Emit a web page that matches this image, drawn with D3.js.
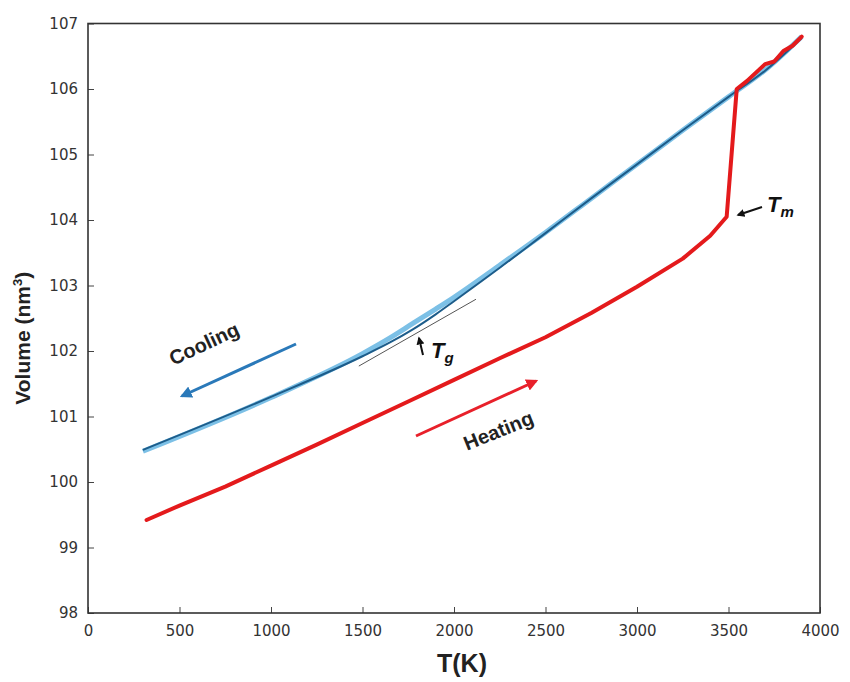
<!DOCTYPE html>
<html>
<head>
<meta charset="utf-8">
<script src="https://cdn.jsdelivr.net/npm/d3@7/dist/d3.min.js"></script>
<style>
  body { margin: 0; background: #fff; }
  svg { display: block; }
</style>
</head>
<body>
<svg id="chart" width="850" height="682"></svg>
<script>
// cooling run: temperatures (K), raw volume (light blue) and smoothed (dark blue)
const coolT = [300, 1000, 1500, 1650, 1775, 1900, 2000, 2250, 2500, 2750, 3000, 3250, 3500, 3700, 3900];
const coolingRaw = [100.47, 101.29, 101.96, 102.20, 102.42, 102.64, 102.82, 103.31, 103.81, 104.33, 104.85, 105.37, 105.88, 106.29, 106.80];
const coolingFit = [100.49, 101.30, 101.92, 102.13, 102.33, 102.56, 102.76, 103.27, 103.80, 104.33, 104.85, 105.37, 105.88, 106.28, 106.78];
// heating run
const heatT = [320, 500, 750, 1000, 1250, 1500, 1750, 2000, 2250, 2500, 2750, 3000, 3250, 3400, 3490, 3545, 3600, 3650, 3700, 3750, 3800, 3850, 3900];
const heatV = [99.42, 99.64, 99.93, 100.25, 100.57, 100.90, 101.23, 101.56, 101.89, 102.21, 102.58, 102.98, 103.41, 103.76, 104.05, 106.00, 106.12, 106.25, 106.38, 106.42, 106.58, 106.66, 106.80];
// tangent line used to find Tg
const tangentT = [1480, 2120];
const tangentV = [101.77, 102.79];

const xTicks = [0, 500, 1000, 1500, 2000, 2500, 3000, 3500, 4000];
const yTicks = [98, 99, 100, 101, 102, 103, 104, 105, 106, 107];

const svg = d3.select('#chart');
const m = { left: 88, right: 820, top: 23.5, bottom: 613 };

const x = d3.scaleLinear().domain([0, 4000]).range([m.left, m.right]);
const y = d3.scaleLinear().domain([98, 107]).range([m.bottom, m.top]);

const line = d3.line().x(d => x(d[0])).y(d => y(d[1]));
const smooth = d3.line().x(d => x(d[0])).y(d => y(d[1])).curve(d3.curveMonotoneX);

// axes (ticks inward)
const xAxis = svg.append('g')
  .attr('transform', `translate(0,${m.bottom})`)
  .call(d3.axisBottom(x).tickValues(xTicks).tickFormat(d3.format('d'))
    .tickSizeInner(-6).tickSizeOuter(0).tickPadding(12));
const yAxis = svg.append('g')
  .attr('transform', `translate(${m.left},0)`)
  .call(d3.axisLeft(y).tickValues(yTicks).tickFormat(d3.format('d'))
    .tickSizeInner(-6).tickSizeOuter(0).tickPadding(10));

[xAxis, yAxis].forEach(a => {
  a.select('.domain').remove();
  a.selectAll('line').attr('stroke', '#444').attr('stroke-width', 1);
  a.selectAll('text')
    .attr('fill', '#333')
    .style('font-family', 'DejaVu Sans')
    .style('font-size', '15px');
});

// frame
svg.append('rect')
  .attr('x', m.left).attr('y', m.top)
  .attr('width', m.right - m.left).attr('height', m.bottom - m.top)
  .attr('fill', 'none').attr('stroke', '#333').attr('stroke-width', 1.6);

// arrow markers
const defs = svg.append('defs');
function marker(id, color) {
  defs.append('marker')
    .attr('id', id)
    .attr('viewBox', '0 0 10 10')
    .attr('refX', 8).attr('refY', 5)
    .attr('markerWidth', 4).attr('markerHeight', 4)
    .attr('orient', 'auto')
    .append('path')
    .attr('d', 'M0,0 L10,5 L0,10 z')
    .attr('fill', color);
}
marker('arrBlue', '#2a79b9');
marker('arrRed', '#e8202a');
marker('arrBlack', '#111');

// curves
svg.append('path')
  .datum(coolT.map((t, i) => [t, coolingRaw[i]]))
  .attr('d', smooth)
  .attr('fill', 'none').attr('stroke', '#7cc0e6').attr('stroke-width', 5)
  .attr('stroke-linejoin', 'round');

svg.append('path')
  .datum(coolT.map((t, i) => [t, coolingFit[i]]))
  .attr('d', smooth)
  .attr('fill', 'none').attr('stroke', '#1c5c8a').attr('stroke-width', 2)
  .attr('stroke-linejoin', 'round');

svg.append('path')
  .datum(tangentT.map((t, i) => [t, tangentV[i]]))
  .attr('d', line)
  .attr('fill', 'none').attr('stroke', '#555').attr('stroke-width', 1);

svg.append('path')
  .datum(heatT.map((t, i) => [t, heatV[i]]))
  .attr('d', line)
  .attr('fill', 'none').attr('stroke', '#e41a1c').attr('stroke-width', 4)
  .attr('stroke-linejoin', 'round').attr('stroke-linecap', 'round');

// annotations
svg.append('line')
  .attr('x1', 296).attr('y1', 344).attr('x2', 182).attr('y2', 396)
  .attr('stroke', '#2a79b9').attr('stroke-width', 3)
  .attr('marker-end', 'url(#arrBlue)');

svg.append('line')
  .attr('x1', 416).attr('y1', 436).attr('x2', 536).attr('y2', 381)
  .attr('stroke', '#e8202a').attr('stroke-width', 3)
  .attr('marker-end', 'url(#arrRed)');

svg.append('line')
  .attr('x1', 423).attr('y1', 355).attr('x2', 419).attr('y2', 338)
  .attr('stroke', '#111').attr('stroke-width', 2)
  .attr('marker-end', 'url(#arrBlack)');

svg.append('line')
  .attr('x1', 762).attr('y1', 207).attr('x2', 738).attr('y2', 215)
  .attr('stroke', '#111').attr('stroke-width', 2)
  .attr('marker-end', 'url(#arrBlack)');

const lab = (txt, tx, ty, rot, size) => svg.append('text')
  .attr('transform', `translate(${tx},${ty}) rotate(${rot})`)
  .attr('text-anchor', 'middle')
  .style('font-family', 'Liberation Sans, Arial, sans-serif')
  .style('font-weight', 'bold')
  .style('font-size', size + 'px')
  .attr('fill', '#222')
  .text(txt);

lab('Cooling', 207, 350, -25, 20);
lab('Heating', 501, 437, -22, 20);

function subLabel(main, sub, tx, ty) {
  const t = svg.append('text')
    .attr('x', tx).attr('y', ty)
    .style('font-family', 'Liberation Sans, Arial, sans-serif')
    .style('font-weight', 'bold')
    .style('font-style', 'italic')
    .style('font-size', '22px')
    .attr('fill', '#111');
  t.append('tspan').text(main);
  t.append('tspan').attr('dy', 5).style('font-size', '15px').text(sub);
}
subLabel('T', 'g', 431, 358);
subLabel('T', 'm', 767, 212);

// axis titles
svg.append('text')
  .attr('x', (m.left + m.right) / 2 + 8).attr('y', 672)
  .attr('text-anchor', 'middle')
  .style('font-family', 'Liberation Sans, Arial, sans-serif')
  .style('font-weight', 'bold')
  .style('font-size', '25px')
  .attr('fill', '#222')
  .text('T(K)');

const yt = svg.append('text')
  .attr('transform', `translate(30,${(m.top + m.bottom) / 2 + 20}) rotate(-90)`)
  .attr('text-anchor', 'middle')
  .style('font-family', 'Liberation Sans, Arial, sans-serif')
  .style('font-weight', 'bold')
  .style('font-size', '21px')
  .attr('fill', '#222');
yt.append('tspan').text('Volume (nm');
yt.append('tspan').attr('dy', -8).style('font-size', '13px').text('3');
yt.append('tspan').attr('dy', 8).text(')');
</script>
</body>
</html>
